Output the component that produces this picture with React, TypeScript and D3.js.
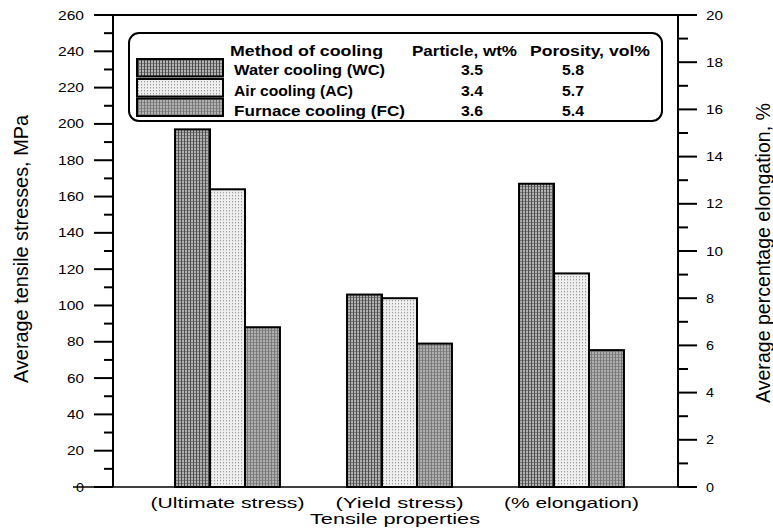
import React from 'react';
import * as d3 from 'd3';

// ---- data ----
const categories = ["(Ultimate stress)", "(Yield stress)", "(% elongation)"];
const seriesKeys = ["WC", "AC", "FC"];
const seriesNames = ["Water cooling (WC)", "Air cooling (AC)", "Furnace cooling (FC)"];
const ultimateStress = [197, 164, 88]; // MPa (left axis)
const yieldStress = [106, 104, 79]; // MPa (left axis)
const elongation = [12.85, 9.05, 5.8]; // % (right axis)
const particleWt = ["3.5", "3.4", "3.6"];
const porosityVol = ["5.8", "5.7", "5.4"];
const leftTicks = d3.range(0, 261, 20);
const leftMinor = d3.range(10, 260, 20);
const rightTicks = d3.range(0, 21, 2);
const rightMinor = d3.range(1, 20, 2);

const W = 773, H = 531;
const L = 113, R = 678, T = 15, B = 487;

const FONT = "'Liberation Sans', Arial, sans-serif";

export default function App() {
  const yL = d3.scaleLinear().domain([0, 260]).range([B, T]);
  const yR = d3.scaleLinear().domain([0, 20]).range([B, T]);
  const x = d3.scaleBand<string>().domain(categories).range([141.5, 657.5]).paddingInner(0.39).paddingOuter(0.195);
  const xs = d3.scaleBand<string>().domain(seriesKeys).range([0, x.bandwidth()]).padding(0);

  const groups = categories.map((c, i) => ({
    cat: c,
    values: i === 0 ? ultimateStress : i === 1 ? yieldStress : elongation,
    scale: i === 2 ? yR : yL,
  }));

  const fills = ["url(#pWC)", "url(#pAC)", "url(#pFC)"];
  const tickLen = (s: string) => s.length * 9 - 1;

  return (
    <svg width={W} height={H} style={{ position: 'absolute', left: 0, top: 0, background: '#fff' }} fontFamily={FONT}>
      <defs>
        <pattern id="pWC" width={3} height={3} patternUnits="userSpaceOnUse">
          <rect width={3} height={3} fill="#b4b4b4" />
          <rect width={3} height={1} fill="#7c7c7c" />
          <rect width={1} height={3} fill="#4a4a4a" />
        </pattern>
        <pattern id="pAC" width={3} height={3} patternUnits="userSpaceOnUse">
          <rect width={3} height={3} fill="#efefef" />
          <rect width={1} height={1} fill="#9a9a9a" />
          <rect x={0} y={1} width={1} height={1} fill="#cfcfcf" />
        </pattern>
        <pattern id="pFC" width={3} height={3} patternUnits="userSpaceOnUse">
          <rect width={3} height={3} fill="#b0b0b0" />
          <rect width={3} height={1} fill="#8a8a8a" />
          <rect width={1} height={3} fill="#767676" />
        </pattern>
      </defs>

      {/* bars */}
      {groups.map((g) => (
        <g key={g.cat} transform={`translate(${x(g.cat)},0)`}>
          {g.values.map((v, j) => (
            <rect key={j} x={xs(seriesKeys[j])} y={g.scale(v)} width={xs.bandwidth()} height={B - g.scale(v)}
              fill={fills[j]} stroke="#000" strokeWidth={2} />
          ))}
        </g>
      ))}

      {/* frame lines */}
      <line x1={94} x2={697} y1={T} y2={T} stroke="#000" strokeWidth={2} />
      <line x1={73} x2={697} y1={B} y2={B} stroke="#000" strokeWidth={1.5} />
      <line x1={94} x2={L} y1={B} y2={B} stroke="#000" strokeWidth={2} />
      <line x1={L} x2={L} y1={T} y2={B} stroke="#000" strokeWidth={2} />
      <line x1={R} x2={R} y1={T} y2={B} stroke="#000" strokeWidth={2} />

      {/* left axis */}
      {leftTicks.map((t) => (
        <g key={'l' + t}>
          <line x1={94} x2={L} y1={yL(t)} y2={yL(t)} stroke="#000" strokeWidth={2} />
          <text x={84} y={yL(t)} dy="0.36em" textAnchor="end" fontSize={12.5}
            textLength={tickLen(String(t))} lengthAdjust="spacingAndGlyphs">{t}</text>
        </g>
      ))}
      {leftMinor.map((t) => (
        <line key={'lm' + t} x1={104} x2={L} y1={yL(t)} y2={yL(t)} stroke="#000" strokeWidth={2} />
      ))}

      {/* right axis */}
      {rightTicks.map((t) => (
        <g key={'r' + t}>
          <line x1={R} x2={697} y1={yR(t)} y2={yR(t)} stroke="#000" strokeWidth={2} />
          <text x={706} y={yR(t)} dy="0.36em" textAnchor="start" fontSize={12.5}
            textLength={tickLen(String(t))} lengthAdjust="spacingAndGlyphs">{t}</text>
        </g>
      ))}
      {rightMinor.map((t) => (
        <line key={'rm' + t} x1={R} x2={688} y1={yR(t)} y2={yR(t)} stroke="#000" strokeWidth={2} />
      ))}

      {/* category labels */}
      {categories.map((c, i) => (
        <text key={c} x={(x(c) as number) + x.bandwidth() / 2} y={508} textAnchor="middle" fontSize={15}
          textLength={[154, 128, 135][i]} lengthAdjust="spacingAndGlyphs">{c}</text>
      ))}
      <text x={395} y={524} textAnchor="middle" fontSize={15} textLength={170} lengthAdjust="spacingAndGlyphs">Tensile properties</text>

      {/* axis titles */}
      <text transform="translate(28,249) rotate(-90)" textAnchor="middle" fontSize={19.5}
        textLength={268} lengthAdjust="spacingAndGlyphs">Average tensile stresses, MPa</text>
      <text transform="translate(770,253) rotate(-90)" textAnchor="middle" fontSize={19.5}
        textLength={300} lengthAdjust="spacingAndGlyphs">Average percentage elongation, %</text>

      {/* legend */}
      <rect x={129} y={33} width={533} height={88} rx={10} ry={10} fill="#fff" stroke="#000" strokeWidth={2} />
      <g fontWeight="bold" fontSize={14.5}>
        <text x={230} y={56} textLength={153} lengthAdjust="spacingAndGlyphs">Method of cooling</text>
        <text x={412} y={56} textLength={105} lengthAdjust="spacingAndGlyphs">Particle, wt%</text>
        <text x={530} y={56} textLength={120} lengthAdjust="spacingAndGlyphs">Porosity, vol%</text>
        {seriesNames.map((s, i) => {
          const base = [74.5, 95.5, 116][i];
          return (
            <g key={s}>
              <rect x={137} y={[59, 79, 98.5][i]} width={86} height={17.5} fill={fills[i]} stroke="#000" strokeWidth={2} />
              <text x={234} y={base} textLength={[151, 119, 171][i]} lengthAdjust="spacingAndGlyphs">{s}</text>
              <text x={472} y={base} textAnchor="middle" textLength={22} lengthAdjust="spacingAndGlyphs">{particleWt[i]}</text>
              <text x={573} y={base} textAnchor="middle" textLength={22} lengthAdjust="spacingAndGlyphs">{porosityVol[i]}</text>
            </g>
          );
        })}
      </g>
    </svg>
  );
}
